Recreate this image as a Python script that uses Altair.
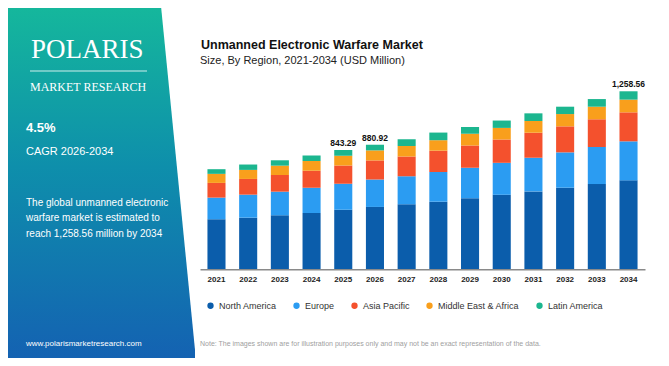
import altair as alt
import pandas as pd

# ---------------- data ----------------
years = ["2021", "2022", "2023", "2024", "2025", "2026", "2027",
         "2028", "2029", "2030", "2031", "2032", "2033", "2034"]
regions = ["North America", "Europe", "Asia Pacific", "Middle East & Africa", "Latin America"]
north_america = [354, 365, 382, 398, 421, 441, 460, 478, 502, 527, 551, 577, 603, 629]
europe = [153, 163, 167, 179, 184, 194, 198, 210, 216, 226, 238, 250, 262, 276]
asia_pacific = [104, 111, 118, 120, 129, 135, 139, 151, 158, 165, 177, 184, 196, 205]
middle_east_africa = [64, 64, 66, 69, 69, 71, 75, 74, 82, 82, 83, 87, 89, 90]
latin_america = [33, 38, 38, 38, 40, 40, 47, 54, 49, 52, 54, 52, 54, 59]
region_colors = ["#0b5dab", "#2b9cf2", "#f4512d", "#f99f1c", "#1cb68f"]

label_years = ["2025", "2026", "2034"]
label_texts = ["843.29", "880.92", "1,258.56"]

title_text = "Unmanned Electronic Warfare Market"
subtitle_text = "Size, By Region, 2021-2034 (USD Million)"
note_text = ("Note: The images shown are for illustration purposes only and may not be "
             "an exact representation of the data.")
logo_text = "POLARIS"
logo_sub = "MARKET RESEARCH"
cagr_value = "4.5%"
cagr_text = "CAGR 2026-2034"
para_lines = ["The global unmanned electronic",
              "warfare market is estimated to",
              "reach 1,258.56 million by 2034"]
url_text = "www.polarismarketresearch.com"

# ---------------- tables ----------------
series = [north_america, europe, asia_pacific, middle_east_africa, latin_america]
rows = []
for ri, (reg, vals) in enumerate(zip(regions, series)):
    for y, v in zip(years, vals):
        rows.append({"year": y, "region": reg, "value": v, "idx": ri})
df = pd.DataFrame(rows)
totals = df.groupby("year")["value"].sum()
label_df = pd.DataFrame({"year": label_years, "label": label_texts,
                         "total": [float(totals[y]) for y in label_years]})

SANS = "Liberation Sans, Arial, sans-serif"
SERIF = "Liberation Serif, DejaVu Serif, serif"
W, H = 653, 350
one = alt.Data(values=[{}])

bg = alt.Chart(one).mark_rect(
    fill=alt.LinearGradient(
        gradient="linear",
        stops=[alt.GradientStop(offset=0, color="#15b79c"),
               alt.GradientStop(offset=0.45, color="#0e8fab"),
               alt.GradientStop(offset=1, color="#1462b2")],
        x1=0, x2=0, y1=0, y2=1)
).encode(x=alt.value(0), x2=alt.value(W), y=alt.value(0), y2=alt.value(H))

panel = alt.Chart(one).mark_rect(fill="white").encode(
    x=alt.value(187), x2=alt.value(W), y=alt.value(0), y2=alt.value(H))

wedge = alt.Chart(one).mark_point(
    shape="M-0.0989,-1L0.15,-1L0.15,1L0.0989,1Z", size=354 * 354,
    filled=True, fill="white", opacity=1, strokeWidth=0
).encode(x=alt.value(170.5), y=alt.value(175))


def txt(text, x, y, size, font=SANS, weight="normal", color="white", align="left"):
    return alt.Chart(one).mark_text(
        text=text, font=font, fontSize=size, fontWeight=weight, color=color,
        align=align, baseline="alphabetic"
    ).encode(x=alt.value(x), y=alt.value(y))


left_layers = [
    txt(logo_text, 23, 50, 27, font=SERIF),
    alt.Chart(one).mark_rule(color="white", strokeWidth=1, opacity=0.8).encode(
        x=alt.value(22), x2=alt.value(139), y=alt.value(63)),
    txt(logo_sub, 22, 83, 12, font=SERIF),
    txt(cagr_value, 18, 124, 13, weight="bold"),
    txt(cagr_text, 18, 147, 11),
    txt(para_lines[0], 18, 198, 10),
    txt(para_lines[1], 18, 213, 10),
    txt(para_lines[2], 18, 229, 10),
    txt(url_text, 18, 338, 8),
]

right_text = [
    txt(title_text, 193, 41, 12.5, weight="bold", color="#111"),
    txt(subtitle_text, 192, 56, 11, color="#222"),
    txt(note_text, 192, 338, 7, color="#a0a0a0"),
]

xscale = alt.Scale(range=[192, 637], paddingInner=0.43, paddingOuter=0.235)
yscale = alt.Scale(domain=[0, 1848], range=[261.3, 0], nice=False)

bars = alt.Chart(df).mark_bar().encode(
    x=alt.X("year:N", scale=xscale, sort=years,
            axis=alt.Axis(title=None, orient="bottom", offset=-88.7, ticks=False,
                          labelAngle=0, labelFont=SANS, labelFontSize=8,
                          labelFontWeight="bold", labelColor="#222", labelPadding=6,
                          domainColor="#8a8a8a", domainWidth=1.5, grid=False,
                          zindex=1)),
    y=alt.Y("value:Q", stack="zero", scale=yscale, axis=None),
    color=alt.Color("region:N", scale=alt.Scale(domain=regions, range=region_colors),
                    legend=alt.Legend(title=None, orient="none", legendX=198, legendY=293,
                                      direction="horizontal", columnPadding=15,
                                      symbolType="circle", symbolSize=40,
                                      symbolStrokeWidth=0, labelFont=SANS,
                                      labelFontSize=9, labelColor="#333",
                                      labelOffset=4, padding=0, zindex=1)),
    order=alt.Order("idx:Q", sort="ascending"),
)

labels = alt.Chart(label_df).mark_text(
    dy=-4, baseline="alphabetic", align="center", font=SANS,
    fontSize=8.5, fontWeight="bold", color="#111"
).encode(x=alt.X("year:N", scale=xscale, sort=years),
         y=alt.Y("total:Q", scale=yscale), text="label:N")

chart = alt.layer(bg, panel, wedge, *left_layers, *right_text, bars, labels).properties(
    width=W, height=H, autosize=alt.AutoSizeParams(type="none"), padding=0
).configure_view(stroke=None)

chart.save("out.html", embed_options={"renderer": "svg", "actions": False})
